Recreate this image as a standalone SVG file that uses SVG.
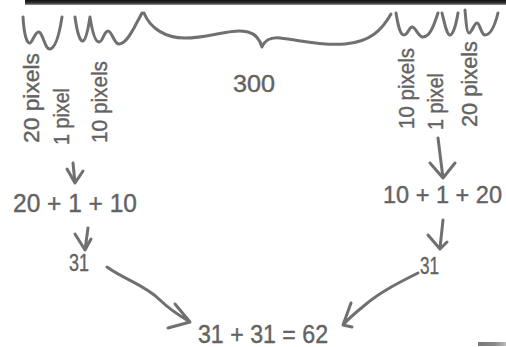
<svg xmlns="http://www.w3.org/2000/svg" width="506" height="347" viewBox="0 0 506 347">
<defs>
<linearGradient id="bar" x1="0" y1="0" x2="0" y2="1">
<stop offset="0" stop-color="#111"/>
<stop offset="0.6" stop-color="#333"/>
<stop offset="1" stop-color="#999"/>
</linearGradient>
<linearGradient id="foot" x1="0" y1="0" x2="1" y2="0">
<stop offset="0" stop-color="#777"/>
<stop offset="0.6" stop-color="#888"/>
<stop offset="1" stop-color="#bbb"/>
</linearGradient>
<style>
.s{fill:none;stroke:#707070;stroke-width:3;stroke-linecap:round;stroke-linejoin:round}
.t{font-family:"Liberation Sans",Arial,sans-serif;fill:#636363;stroke:#636363;stroke-width:0.4}
.v{font-size:22px}
.e{font-size:25px}
</style>
</defs>
<rect width="506" height="347" fill="#fff"/>
<rect x="25" y="0" width="481" height="5" fill="url(#bar)"/>
<rect x="478" y="342" width="28" height="4" fill="url(#foot)"/>

<g id="braces">
<path class="s" d="M23,17 C24,35 27,44 30,43 C33,42 35,31 39,32 C43,33 45,50 50,49 C56,48 60,30 62,17"/>
<path class="s" d="M75,17 C77,32 80,42 83,41 C86,40 88,30 90,17 C92,30 95,42 99,42 C103,42 104,31 108,31 C112,31 114,44 119,44 C125,44 130,35 134,28 C137,22 140,17 142,13"/>
<path class="s" d="M144,13 C150,28 165,38 185,38 C210,38 230,28 248,32 C256,34 260,40 262,47 C265,40 270,37 280,38 C300,40 320,46 345,44 C370,42 382,30 391,14"/>
<path class="s" d="M396,13 C398,25 400,35 404,35 C408,35 409,27 412,27 C416,27 418,37 423,37 C430,37 434,25 438,13"/>
<path class="s" d="M442,13 C445,25 447,35 450,35 C453,35 456,25 458,13"/>
<path class="s" d="M465,10 C466,22 467,33 469,33 C472,33 474,23 477,23 C480,23 481,35 485,35 C491,35 495,25 498,13"/>
</g>

<g id="labels-left">
<text class="t v" transform="translate(39,143) rotate(-90)" textLength="90" lengthAdjust="spacingAndGlyphs">20 pixels</text>
<text class="t v" transform="translate(69,145) rotate(-90)" textLength="57" lengthAdjust="spacingAndGlyphs">1 pixel</text>
<text class="t v" transform="translate(107,143) rotate(-90)" textLength="82" lengthAdjust="spacingAndGlyphs">10 pixels</text>
</g>
<g id="label-300">
<text class="t" x="233" y="92" font-size="23" textLength="42" lengthAdjust="spacingAndGlyphs">300</text>
</g>
<g id="labels-right">
<text class="t v" transform="translate(414,129) rotate(-90)" textLength="81" lengthAdjust="spacingAndGlyphs">10 pixels</text>
<text class="t v" transform="translate(443,130) rotate(-90)" textLength="57" lengthAdjust="spacingAndGlyphs">1 pixel</text>
<text class="t v" transform="translate(477,127) rotate(-90)" textLength="86" lengthAdjust="spacingAndGlyphs">20 pixels</text>
</g>

<g id="sum-left"><text class="t e" x="13" y="212" textLength="124" lengthAdjust="spacingAndGlyphs">20 + 1 + 10</text></g>
<g id="sum-right"><text class="t" x="383" y="203" font-size="24" textLength="119" lengthAdjust="spacingAndGlyphs">10 + 1 + 20</text></g>
<g id="res-left"><text class="t" x="69" y="271" font-size="24" textLength="20" lengthAdjust="spacingAndGlyphs">31</text></g>
<g id="res-right"><text class="t" x="420" y="274" font-size="24" textLength="19" lengthAdjust="spacingAndGlyphs">31</text></g>
<g id="total"><text class="t e" x="198" y="343" textLength="130" lengthAdjust="spacingAndGlyphs">31 + 31 = 62</text></g>

<g id="connectors">
<path class="s" d="M73,163 L75,183 M67,169 L75,183 L83,171"/>
<path class="s" d="M88,228 L85,250 M75,234 L85,250 L91,239"/>
<path class="s" d="M438,138 L443,178 M430,163 L443,178 L455,163"/>
<path class="s" d="M443,220 L440,248 M428,235 L440,249 L447,242"/>
<path class="s" d="M107,267 C125,280 145,285 160,300 C170,310 180,316 190,322 M175,304 L190,322 L168,328"/>
<path class="s" d="M418,273 C400,282 380,292 365,305 C355,313 349,318 343,325 M351,303 L343,325 L352,327"/>
</g>
</svg>
